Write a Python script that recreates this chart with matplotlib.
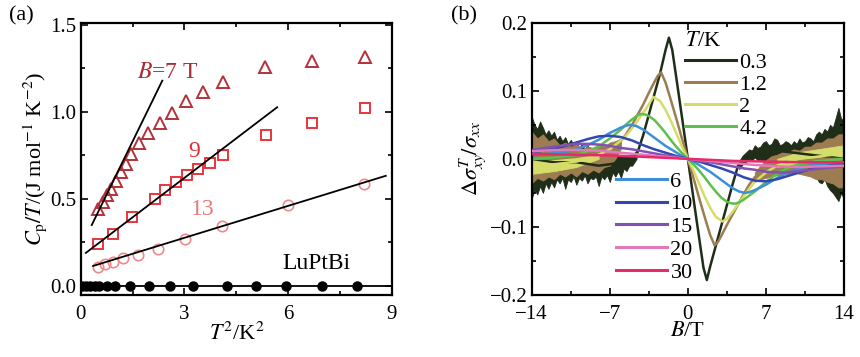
import matplotlib
matplotlib.use("Agg")
import matplotlib.pyplot as plt
from matplotlib.lines import Line2D
from matplotlib.ticker import MultipleLocator

plt.rcParams['font.family'] = ['Liberation Serif', 'DejaVu Serif']
plt.rcParams['mathtext.fontset'] = 'stix'
plt.rcParams['font.size'] = 15

# ---------------- Panel (a) data ----------------
t2_7T = [0.51, 0.64, 0.75, 0.88, 1.02, 1.18, 1.30, 1.45, 1.68, 1.95, 2.28, 2.64, 3.04, 3.54, 4.12, 5.32, 6.69, 8.21]
cp_7T = [0.44, 0.485, 0.52, 0.56, 0.605, 0.655, 0.70, 0.76, 0.82, 0.877, 0.935, 0.995, 1.065, 1.117, 1.172, 1.26, 1.293, 1.318]
t2_9T = [0.51, 0.94, 1.47, 2.15, 2.44, 2.75, 3.06, 3.40, 3.74, 4.12, 5.35, 6.68, 8.22]
cp_9T = [0.24, 0.30, 0.395, 0.50, 0.55, 0.595, 0.64, 0.67, 0.705, 0.75, 0.87, 0.935, 1.02]
t2_13T = [0.50, 0.70, 0.94, 1.23, 1.66, 2.24, 3.01, 4.10, 6.00, 8.20]
cp_13T = [0.11, 0.125, 0.14, 0.16, 0.18, 0.21, 0.27, 0.345, 0.465, 0.585]
t2_0 = [0.05, 0.15, 0.27, 0.40, 0.52, 0.75, 1.00, 1.43, 1.97, 2.57, 3.25, 4.22, 5.08, 5.93, 6.97, 7.98]
cp_0 = [0.0] * 16
fit7_x = [0.32, 2.36]
fit7_y = [0.35, 1.18]
fit9_x = [0.15, 5.68]
fit9_y = [0.19, 1.027]
fit13_x = [0.36, 8.82]
fit13_y = [0.115, 0.633]
base_x = [0.0, 9.0]
base_y = [0.0, 0.0]

# ---------------- Panel (b) data ----------------
temps = ['0.3', '1.2', '2', '4.2', '6', '10', '15', '20', '30']
colors_b = ['#1f2d19', '#9c7c50', '#d5dd6a', '#5cc04b', '#3e8fd8', '#3446b0', '#8351b2', '#e07ab8', '#e8296a']

B03 = [-14, -12, -10, -8, -7, -6, -5, -4.5, -4, -3.5, -3, -2.5, -2, -1.7, -1.4, -1, -0.5, 0,
       0.5, 1, 1.4, 1.7, 2, 2.5, 3, 3.5, 4, 4.5, 5, 6, 7, 8, 10, 12, 14]
y03 = [0.0, -0.005, -0.005, -0.01, -0.008, -0.005, 0.0, 0.01, 0.035, 0.065, 0.095, 0.125, 0.16, 0.178, 0.16, 0.115, 0.058, 0.0,
       -0.058, -0.115, -0.16, -0.178, -0.158, -0.128, -0.098, -0.068, -0.038, -0.01, 0.003, 0.012, 0.015, 0.012, 0.008, 0.004, 0.0]
B12 = [-14, -12, -10, -8, -7, -6, -5.5, -5, -4.5, -4, -3.5, -3, -2.7, -2.4, -2, -1.5, -1, -0.5, 0,
       0.5, 1, 1.5, 2, 2.4, 2.7, 3, 3.5, 4, 4.5, 5, 5.5, 6, 7, 8, 10, 12, 14]
y12 = [0.0, 0.0, 0.003, 0.008, 0.015, 0.026, 0.037, 0.05, 0.065, 0.08, 0.097, 0.113, 0.122, 0.127, 0.112, 0.085, 0.057, 0.028, 0.0,
       -0.028, -0.057, -0.085, -0.112, -0.127, -0.122, -0.113, -0.097, -0.082, -0.067, -0.052, -0.038, -0.027, -0.014, -0.006, -0.003, 0.0, 0.0]
B2 = [-14, -12, -10, -9, -8, -7, -6, -5.5, -5, -4.5, -4, -3.5, -3.1, -2.5, -2, -1.5, -1, -0.5, 0,
      0.5, 1, 1.5, 2, 2.5, 3.1, 3.5, 4, 4.5, 5, 5.5, 6, 7, 8, 9, 10, 12, 14]
y2 = [-0.01, -0.008, -0.004, 0.0, 0.006, 0.014, 0.027, 0.035, 0.045, 0.056, 0.068, 0.08, 0.091, 0.085, 0.072, 0.055, 0.036, 0.017, 0.0,
      -0.017, -0.036, -0.055, -0.072, -0.085, -0.092, -0.088, -0.078, -0.067, -0.055, -0.044, -0.034, -0.02, -0.01, -0.004, 0.0, 0.004, 0.008]
B42 = [-14, -12, -10, -9, -8, -7, -6, -5.5, -5, -4.6, -4.2, -3.8, -3.5, -3, -2.5, -2, -1.5, -1, -0.5, 0,
       0.5, 1, 1.5, 2, 2.5, 3, 3.5, 3.8, 4.2, 4.6, 5, 5.5, 6, 7, 8, 9, 10, 12, 14]
y42 = [0.0, 0.002, 0.006, 0.011, 0.018, 0.03, 0.043, 0.051, 0.058, 0.063, 0.066, 0.065, 0.063, 0.057, 0.048, 0.038, 0.027, 0.017, 0.008, 0.0,
       -0.008, -0.017, -0.027, -0.038, -0.048, -0.057, -0.063, -0.065, -0.066, -0.064, -0.06, -0.054, -0.048, -0.034, -0.022, -0.013, -0.008, -0.003, 0.0]
B6 = [-14, -12, -11, -10, -9, -8, -7, -6, -5.5, -5.1, -4.6, -4, -3.5, -3, -2.5, -2, -1.5, -1, -0.5, 0,
      0.5, 1, 1.5, 2, 2.5, 3, 3.5, 4, 4.6, 5.1, 5.5, 6, 7, 8, 9, 10, 11, 12, 14]
y6 = [0.005, 0.008, 0.01, 0.014, 0.02, 0.028, 0.038, 0.046, 0.049, 0.05, 0.048, 0.043, 0.037, 0.031, 0.025, 0.019, 0.014, 0.009, 0.004, 0.0,
      -0.004, -0.009, -0.014, -0.019, -0.025, -0.031, -0.037, -0.043, -0.048, -0.05, -0.049, -0.046, -0.038, -0.028, -0.02, -0.014, -0.01, -0.008, -0.005]
B10 = [-14, -13, -12, -11, -10, -9, -8, -7, -6, -5, -4, -3, -2, -1, 0, 1, 2, 3, 4, 5, 6, 7, 8, 9, 10, 11, 12, 13, 14]
y10 = [0.009, 0.012, 0.015, 0.019, 0.024, 0.029, 0.033, 0.034, 0.032, 0.027, 0.02, 0.014, 0.009, 0.004, 0.0,
       -0.004, -0.009, -0.014, -0.02, -0.027, -0.032, -0.033, -0.03, -0.025, -0.02, -0.015, -0.012, -0.009, -0.007]
B15 = [-14, -12, -11, -10, -9, -8, -7, -6, -5, -4, -3, -2, -1, 0, 1, 2, 3, 4, 5, 6, 7, 8, 9, 10, 11, 12, 14]
y15 = [0.013, 0.018, 0.02, 0.022, 0.022, 0.021, 0.019, 0.016, 0.014, 0.011, 0.008, 0.005, 0.003, 0.0,
       -0.003, -0.005, -0.008, -0.011, -0.014, -0.016, -0.019, -0.02, -0.02, -0.018, -0.016, -0.014, -0.011]
B20 = [-14, -12, -10, -8, -6, -4, -2, 0, 2, 4, 6, 8, 10, 12, 14]
y20 = [0.011, 0.013, 0.013, 0.012, 0.009, 0.006, 0.003, 0.0, -0.003, -0.006, -0.009, -0.011, -0.012, -0.011, -0.01]
B30 = [-14, -10, -7, -4, 0, 4, 7, 10, 14]
y30 = [0.007, 0.006, 0.005, 0.003, 0.0, -0.003, -0.004, -0.005, -0.005]

# noise envelopes (upper / lower)
nBL03 = [-14, -13.75, -13.5, -13.25, -13, -12.75, -12.5, -12.25, -12, -11.75, -11.5, -11.25, -11, -10.75, -10.5, -10.25,
         -10, -9.75, -9.5, -9.25, -9, -8.75, -8.5, -8.25, -8, -7.75, -7.5, -7.25, -7, -6.75, -6.5, -6.25, -6, -5.75, -5.5, -5.25, -5, -4.6]
nUL03 = [0.062, 0.05, 0.044, 0.055, 0.046, 0.036, 0.042, 0.034, 0.04, 0.028, 0.034, 0.026, 0.032, 0.022, 0.028, 0.02,
         0.026, 0.016, 0.022, 0.014, 0.02, 0.012, 0.016, 0.01, 0.015, 0.008, 0.012, 0.006, 0.01, 0.005, 0.008, 0.004, 0.006, 0.003, 0.005, 0.004, 0.006, 0.012]
nLL03 = [-0.058, -0.046, -0.052, -0.04, -0.05, -0.036, -0.044, -0.034, -0.042, -0.03, -0.036, -0.028, -0.044, -0.03, -0.034, -0.026,
         -0.038, -0.028, -0.032, -0.024, -0.036, -0.028, -0.03, -0.026, -0.04, -0.026, -0.03, -0.024, -0.034, -0.02, -0.026, -0.018, -0.028, -0.014, -0.018, -0.01, -0.01, 0.0]
nBR03 = [4.6, 5, 5.25, 5.5, 5.75, 6, 6.25, 6.5, 6.75, 7, 7.25, 7.5, 7.75, 8, 8.25, 8.5, 8.75, 9, 9.25, 9.5, 9.75, 10,
         10.25, 10.5, 10.75, 11, 11.25, 11.5, 11.75, 12, 12.25, 12.5, 12.75, 13, 13.25, 13.5, 13.75, 14]
nUR03 = [-0.005, 0.006, 0.01, 0.014, 0.012, 0.02, 0.016, 0.018, 0.024, 0.026, 0.02, 0.022, 0.03, 0.028, 0.02, 0.022, 0.026, 0.024,
         0.02, 0.026, 0.022, 0.03, 0.024, 0.026, 0.032, 0.03, 0.026, 0.036, 0.04, 0.036, 0.044, 0.04, 0.05, 0.046, 0.06, 0.075, 0.058, 0.06]
nLR03 = [-0.015, -0.006, -0.004, 0.0, -0.002, 0.002, -0.002, -0.002, -0.004, -0.004, -0.002, -0.002, -0.006, -0.006, -0.004, -0.004,
         -0.01, -0.01, -0.006, -0.008, -0.012, -0.014, -0.01, -0.012, -0.018, -0.02, -0.016, -0.026, -0.034, -0.036, -0.03, -0.04, -0.046,
         -0.05, -0.056, -0.062, -0.05, -0.06]
nBL12 = [-14, -13.5, -13, -12.5, -12, -11.5, -11, -10.5, -10, -9.5, -9, -8.5, -8, -7.5, -7, -6.5, -6]
nUL12 = [0.04, 0.03, 0.036, 0.026, 0.03, 0.02, 0.024, 0.018, 0.022, 0.014, 0.018, 0.016, 0.022, 0.018, 0.024, 0.026, 0.03]
nLL12 = [-0.036, -0.028, -0.032, -0.026, -0.03, -0.022, -0.026, -0.02, -0.026, -0.018, -0.022, -0.016, -0.02, -0.012, -0.01, 0.0, 0.015]
nBR12 = [6, 6.5, 7, 7.5, 8, 8.5, 9, 9.5, 10, 10.5, 11, 11.5, 12, 12.5, 13, 13.5, 14]
nUR12 = [-0.02, -0.01, -0.002, 0.004, 0.006, 0.01, 0.01, 0.014, 0.012, 0.018, 0.018, 0.024, 0.024, 0.03, 0.03, 0.036, 0.036]
nLR12 = [-0.034, -0.03, -0.028, -0.026, -0.024, -0.022, -0.022, -0.02, -0.022, -0.024, -0.026, -0.03, -0.03, -0.034, -0.036, -0.042, -0.042]
nBL2 = [-14, -12, -10, -8]
nUL2 = [0.0, 0.0, 0.002, 0.01]
nLL2 = [-0.022, -0.018, -0.012, 0.0]
nBR2 = [8, 10, 12, 14]
nUR2 = [0.0, 0.01, 0.015, 0.02]
nLR2 = [-0.012, -0.006, -0.002, 0.0]

# ---------------- Figure ----------------
fig = plt.figure(figsize=(8.6, 3.57), dpi=100)
axA = fig.add_axes([0.0938, 0.1737, 0.3620, 0.7627])
axB = fig.add_axes([0.6183, 0.1737, 0.3631, 0.7627])

for ax in (axA, axB):
    for s in ax.spines.values():
        s.set_linewidth(1.6)
    ax.tick_params(which='both', direction='in', top=True, right=True, width=1.2, labelsize=15)
    ax.tick_params(which='major', length=5)
    ax.tick_params(which='minor', length=3)
    ax.tick_params(axis='x', pad=7)
    ax.tick_params(axis='y', pad=3)

# Panel (a)
c7, c9, c13 = '#b3323a', '#e6363b', '#ef8a8c'
axA.plot(fit7_x, fit7_y, color='black', lw=1.3, zorder=3)
axA.plot(fit9_x, fit9_y, color='black', lw=1.3, zorder=3)
axA.plot(fit13_x, fit13_y, color='black', lw=1.3, zorder=3)
axA.plot(base_x, base_y, color='black', lw=1.3, zorder=3)
axA.plot(t2_7T, cp_7T, ls='none', marker='^', ms=9, mfc='none', mec=c7, mew=1.4)
axA.plot(t2_9T, cp_9T, ls='none', marker='s', ms=7.5, mfc='none', mec=c9, mew=1.4)
axA.plot(t2_13T, cp_13T, ls='none', marker='o', ms=7.5, mfc='none', mec=c13, mew=1.2)
axA.plot(t2_0, cp_0, ls='none', marker='o', ms=6.5, mfc='black', mec='black', zorder=4)
axA.set_xlim(0, 9)
axA.set_ylim(-0.052, 1.513)
axA.xaxis.set_major_locator(MultipleLocator(3))
axA.xaxis.set_minor_locator(MultipleLocator(1.5))
axA.yaxis.set_major_locator(MultipleLocator(0.5))
axA.yaxis.set_minor_locator(MultipleLocator(0.25))
axA.xaxis.set_major_formatter(plt.FuncFormatter(lambda v, p: f"{v:.0f}"))
axA.yaxis.set_major_formatter(plt.FuncFormatter(lambda v, p: f"{v:.1f}"))
axA.text(1.63, 1.227, '$B$=7 T', color='#a82c34', fontsize=17, ha='left', va='center')
axA.text(3.27, 0.772, '9', color='#e03035', fontsize=17, ha='center', va='center')
axA.text(3.52, 0.44, '13', color='#e87878', fontsize=17, ha='center', va='center')
axA.text(6.82, 0.13, 'LuPtBi', color='black', fontsize=17, ha='center', va='center')
axA.set_xlabel('$T^{2}$/K$^{2}$', fontsize=16, labelpad=-1)
axA.set_ylabel('$C_\\mathrm{p}/T$/(J mol$^{-1}$ K$^{-2}$)', fontsize=16, labelpad=1)

# Panel (b)
series = [(B03, y03), (B12, y12), (B2, y2), (B42, y42), (B6, y6), (B10, y10), (B15, y15), (B20, y20), (B30, y30)]
bands = [(0, nBL03, nUL03, nLL03), (0, nBR03, nUR03, nLR03),
         (1, nBL12, nUL12, nLL12), (1, nBR12, nUR12, nLR12),
         (2, nBL2, nUL2, nLL2), (2, nBR2, nUR2, nLR2)]
for idx, bx, up, lo in bands:
    axB.fill_between(bx, lo, up, color=colors_b[idx], lw=0.6, zorder=1 + idx * 0.1)
handles = []
for i, (bx, yy) in enumerate(series):
    axB.plot(bx, yy, color=colors_b[i], lw=1.8, zorder=2 + i * 0.1)
    handles.append(Line2D([], [], color=colors_b[i], lw=2.2))
axB.set_xlim(-14, 14)
axB.set_ylim(-0.2, 0.2)
axB.xaxis.set_major_locator(MultipleLocator(7))
axB.xaxis.set_minor_locator(MultipleLocator(3.5))
axB.yaxis.set_major_locator(MultipleLocator(0.1))
axB.yaxis.set_minor_locator(MultipleLocator(0.05))
axB.xaxis.set_major_formatter(plt.FuncFormatter(lambda v, p: f"{v:.0f}".replace('-', '\u2212')))
axB.yaxis.set_major_formatter(plt.FuncFormatter(lambda v, p: f"{v:.1f}".replace('-', '\u2212')))
axB.set_xlabel('$B$/T', fontsize=16, labelpad=-1)
axB.set_ylabel('$\\Delta\\sigma_{xy}^{T}/\\sigma_{xx}$', fontsize=16, labelpad=1)

leg1 = axB.legend(handles[:4], temps[:4], title='$T$/K', loc='upper left', bbox_to_anchor=(0.49, 0.965),
                  frameon=False, fontsize=16, title_fontsize=16, handlelength=2.3, handletextpad=0.15,
                  labelspacing=0.06, borderpad=0, borderaxespad=0, alignment='left')
axB.add_artist(leg1)
axB.legend(handles[4:], temps[4:], loc='upper left', bbox_to_anchor=(0.27, 0.455),
           frameon=False, fontsize=16, handlelength=2.3, handletextpad=0.15,
           labelspacing=0.1, borderpad=0, borderaxespad=0)

fig.text(0.025, 0.955, '(a)', fontsize=16, ha='center', va='center')
fig.text(0.54, 0.955, '(b)', fontsize=16, ha='center', va='center')

fig.savefig('out.png', dpi=100)
